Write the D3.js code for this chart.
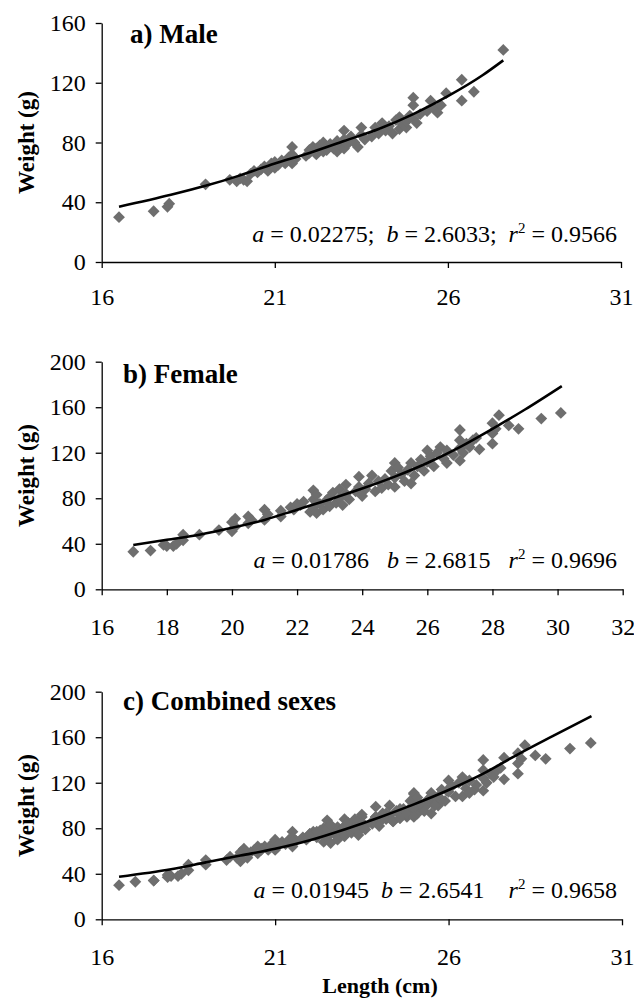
<!DOCTYPE html>
<html>
<head>
<meta charset="utf-8">
<script src="https://cdn.jsdelivr.net/npm/d3@7"></script>
<style>
  body { margin: 0; background: #fff; }
  svg text { font-family: "Liberation Serif", "Times New Roman", serif; fill: #000; }
  .axis .domain, .axis .tick line { stroke: #000; stroke-width: 1.3px; }
  .axis .tick text { font-size: 24px; }
</style>
</head>
<body>
<script>
// male points (length cm, weight g)
let maleLength = [16.5, 17.5, 17.9, 17.95, 19.0,
  19.7, 19.9, 20.0, 20.1, 20.2,
  20.3, 20.4, 20.5, 20.6, 20.7, 20.8, 20.9, 21.0, 21.0, 21.1, 21.2,
  21.3, 21.4, 21.5, 21.5, 21.5, 21.6,
  21.9, 22.0, 22.0, 22.1, 22.2, 22.2, 22.3, 22.4, 22.4, 22.5, 22.5,
  22.6, 22.7, 22.8, 22.8, 22.9, 23.0, 23.0, 23.0, 23.1,
  23.2, 23.3, 23.4, 23.5, 23.5, 23.6,
  23.8, 23.9, 24.0, 24.1, 24.2, 24.3, 24.4,
  24.5, 24.6, 24.6, 24.7, 24.8, 24.8, 24.9, 25.0, 25.0, 25.0,
  25.1, 25.2, 25.4, 25.5, 25.6, 25.7, 25.8,
  25.95, 26.4, 26.4, 26.75, 27.6]
let maleWeight = [30, 34, 37, 39, 52,
  55, 54, 56, 55, 54,
  59, 61, 60, 62, 64, 61, 66, 63, 67, 65, 68,
  66, 70, 77, 72, 66, 69,
  71, 75, 73, 77, 72, 76, 78, 74, 80, 77, 75,
  79, 76, 81, 74, 78, 88, 82, 76, 79,
  84, 80, 77, 90, 85, 82,
  84, 90, 86, 93, 88, 91, 86,
  95, 89, 97, 92, 90, 94, 98, 110, 105, 96,
  93, 99, 101, 108, 103, 100, 105,
  113, 122, 108, 114, 142]

// female points
let femaleLength = [16.97, 17.5, 17.9, 18.0, 18.2, 18.3, 18.5, 18.5, 19.0, 19.6,
  20.0, 20.0, 20.1, 20.1, 20.5, 20.5, 20.6, 21.0, 21.0, 21.1, 21.5, 21.5, 21.8, 21.9, 22.0, 22.1, 22.2,
  22.4, 22.5, 22.5, 22.5, 22.6, 22.6, 22.7, 22.8, 22.9, 23.0, 23.0,
  23.1, 23.2, 23.3, 23.3, 23.4, 23.5, 23.5, 23.6,
  23.8, 23.9, 23.9, 24.0, 24.1, 24.2, 24.3, 24.4, 24.5,
  24.6, 24.7, 24.8, 24.9, 25.0, 25.0, 25.0, 25.1, 25.2,
  25.3, 25.4, 25.5, 25.5, 25.6, 25.7,
  25.8, 25.9, 26.0, 26.0, 26.1, 26.2, 26.3, 26.4, 26.5, 26.6, 26.6,
  26.8, 27.0, 27.0, 27.0, 27.0, 27.1, 27.2, 27.3, 27.4, 27.6, 27.5,
  28.0, 28.0, 28.0, 28.1, 28.2, 28.5, 28.8, 29.5, 30.1]
let femaleWeight = [33, 34, 39, 38, 38, 40, 48, 43, 48, 52,
  51, 59, 62, 55, 58, 64, 61, 61, 70, 66, 64, 69, 72, 70, 75, 74, 77,
  68, 87, 79, 72, 67, 83, 75, 70, 78, 73, 81,
  85, 76, 88, 80, 74, 92, 84, 79,
  86, 99, 90, 82, 88, 93, 100, 86, 95,
  89, 97, 92, 104, 111, 98, 90, 107, 101,
  95, 105, 111, 93, 100, 108,
  114, 104, 122, 112, 117, 108, 120, 125, 115, 122, 111,
  118, 140, 131, 124, 113, 120, 128, 125, 131, 123, 133,
  146, 137, 128, 141, 153, 144, 141, 150, 155]

// fitted curves as drawn in the figure
let maleCurveL = [16.5, 18, 19, 20, 21, 22, 23, 24, 25, 26, 27, 27.6]
let maleCurveW = [37, 45, 51, 58, 66, 73, 81, 89, 99, 111, 125, 135]
let femaleCurveL = [16.97, 18, 19, 20, 21, 22, 23, 24, 25, 26, 27, 28, 29, 30.13]
let femaleCurveW = [38.9, 43.5, 48, 54, 61, 70, 79, 88.5, 99, 111, 125, 141, 158, 178.6]
let combinedCurveL = [16.5, 18, 19, 20, 21, 22, 23, 24, 25, 26, 27, 28, 29, 30.12]
let combinedCurveW = [37.4, 44, 50, 56, 62, 69.5, 79, 89.5, 101, 113.6, 128, 145, 161, 178.6]

let titles = ['a) Male', 'b) Female', 'c) Combined sexes']
let xTicksA = [16, 21, 26, 31]
let xTicksB = [16, 18, 20, 22, 24, 26, 28, 30, 32]
let yTicksA = [0, 40, 80, 120, 160]
let yTicksB = [0, 40, 80, 120, 160, 200]
let coefA = ['0.02275', '0.01786', '0.01945']
let coefB = ['2.6033', '2.6815', '2.6541']
let coefR2 = ['0.9566', '0.9696', '0.9658']
let seps = [[';  ', ';  '], ['   ', '   '], ['  ', '    ']]

let width = 634
let height = 998
let tickFont = 24

let zip = (xs, ys) => xs.map((x, i) => ({ x: x, y: ys[i] }))

let panels = [
  { title: titles[0], pts: zip(maleLength, maleWeight), curve: zip(maleCurveL, maleCurveW),
    xDom: [16, 31], xTicks: xTicksA, yDom: [0, 160], yTicks: yTicksA,
    left: 101.7, right: 621, top: 23, bottom: 262, labOff: 43, titleX: 130, titleY: 43, noteY: 242 },
  { title: titles[1], pts: zip(femaleLength, femaleWeight), curve: zip(femaleCurveL, femaleCurveW),
    xDom: [16, 32], xTicks: xTicksB, yDom: [0, 200], yTicks: yTicksB,
    left: 101.7, right: 622.7, top: 361.7, bottom: 589.3, labOff: 46, titleX: 123, titleY: 383, noteY: 568 },
  { title: titles[2], pts: zip(maleLength.concat(femaleLength), maleWeight.concat(femaleWeight)),
    curve: zip(combinedCurveL, combinedCurveW),
    xDom: [16, 31], xTicks: xTicksA, yDom: [0, 200], yTicks: yTicksB,
    left: 101.7, right: 622, top: 691.7, bottom: 919.3, labOff: 46, titleX: 123, titleY: 710, noteY: 898 }
]

let svg = d3.select('body')
  .append('svg')
  .attr('width', width)
  .attr('height', height)

svg.append('rect').attr('width', width).attr('height', height).attr('fill', '#fff')

let diamond = d3.symbol().type(d3.symbolSquare).size(70)

panels.forEach((p, i) => {
  let xScale = d3.scaleLinear().domain(p.xDom).range([p.left, p.right])
  let yScale = d3.scaleLinear().domain(p.yDom).range([p.bottom, p.top])

  // axes
  svg.append('g')
    .attr('class', 'axis')
    .attr('transform', 'translate(0,' + p.bottom + ')')
    .call(d3.axisBottom(xScale).tickValues(p.xTicks).tickSize(6).tickSizeOuter(0)
      .tickPadding(p.labOff - 6 - 0.71 * tickFont).tickFormat(d3.format('d')))

  svg.append('g')
    .attr('class', 'axis')
    .attr('transform', 'translate(' + p.left + ',0)')
    .call(d3.axisLeft(yScale).tickValues(p.yTicks).tickSize(6).tickSizeOuter(0).tickPadding(10))

  svg.selectAll('.axis').attr('font-family', null).attr('font-size', null)

  // points
  svg.append('g')
    .selectAll('path')
    .data(p.pts)
    .enter()
    .append('path')
    .attr('d', diamond)
    .attr('fill', '#6e6e6e')
    .attr('transform', d => 'translate(' + xScale(d.x) + ',' + yScale(d.y) + ') rotate(45)')

  // trend curve
  let line = d3.line()
    .x(d => xScale(d.x))
    .y(d => yScale(d.y))
    .curve(d3.curveMonotoneX)

  svg.append('path')
    .datum(p.curve)
    .attr('d', line)
    .attr('fill', 'none')
    .attr('stroke', '#000')
    .attr('stroke-width', 2.6)

  // panel title
  svg.append('text')
    .attr('x', p.titleX)
    .attr('y', p.titleY)
    .style('font-size', '27px')
    .style('font-weight', 'bold')
    .text(p.title)

  // y label
  svg.append('text')
    .attr('transform', 'translate(34,' + ((p.top + p.bottom) / 2) + ') rotate(-90)')
    .style('text-anchor', 'middle')
    .style('font-size', '23px')
    .style('font-weight', 'bold')
    .text('Weight (g)')

  // equation note
  let note = svg.append('text')
    .attr('x', 617)
    .attr('y', p.noteY)
    .style('text-anchor', 'end')
    .style('font-size', '24px')
    .style('white-space', 'pre')
  note.append('tspan').style('font-style', 'italic').text('a')
  note.append('tspan').text(' = ' + coefA[i] + seps[i][0])
  note.append('tspan').style('font-style', 'italic').text('b')
  note.append('tspan').text(' = ' + coefB[i] + seps[i][1])
  note.append('tspan').style('font-style', 'italic').text('r')
  note.append('tspan').attr('dy', -9).style('font-size', '15px').text('2')
  note.append('tspan').attr('dy', 9).text(' = ' + coefR2[i])
})

svg.append('text')
  .attr('x', 380)
  .attr('y', 993)
  .style('text-anchor', 'middle')
  .style('font-size', '22px')
  .style('font-weight', 'bold')
  .text('Length (cm)')
</script>
</body>
</html>
